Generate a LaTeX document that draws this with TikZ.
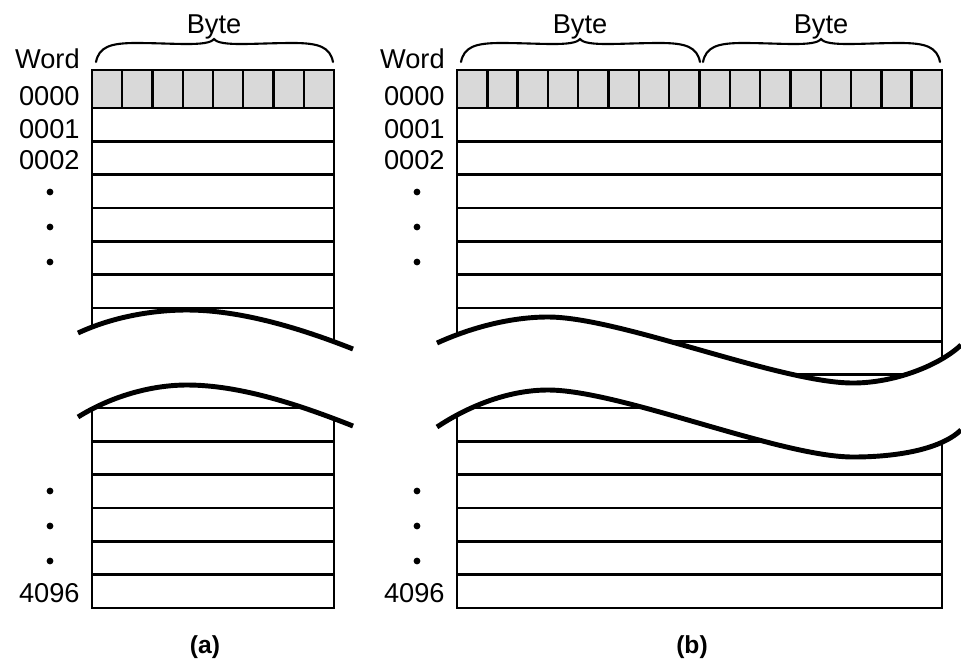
\documentclass[tikz,border=0pt]{standalone}
\usepackage{fontspec}
\setmainfont{Liberation Sans}
\usepackage{tikz}
\usetikzlibrary{positioning}
\definecolor{cellgray}{RGB}{217, 217, 217}
\tikzstyle{gridline} = [line width=1.4pt, black]
\tikzstyle{breakline} = [line width=2.8pt, black]
\tikzstyle{bracestyle} = [line width=1.2pt, line cap=round]
\tikzstyle{addrtext} = [font=\fontsize{15.5}{18}\selectfont, inner sep=0pt]
\tikzstyle{subcap} = [font=\fontsize{14}{17}\selectfont\bfseries, inner sep=0pt]
% brace over one byte: left end, tip, right end
\newcommand{\bytebrace}[3]{%
  \draw[bracestyle] (#1,62) .. controls (#1+3,47) and (#1+14,43) .. (#1+40,43)
    .. controls (#2-40,43) and (#2-6,47) .. (#2,39)
    .. controls (#2+6,47) and (#2+40,43) .. (#3-40,43)
    .. controls (#3-14,43) and (#3-3,47) .. (#3,62);}

\begin{document}
\begin{tikzpicture}[x=0.2mm, y=-0.2mm]
    \useasboundingbox (0,0) rectangle (961,660);

    % (a) memory of byte words
    \draw[gridline, fill=cellgray] (92,70) rectangle (334,108);
    \foreach \i in {1,...,7}
        \draw[gridline] (92+\i*30.25,70) -- (92+\i*30.25,108);
    \foreach \r in {1,...,14}
        \draw[gridline] (92,108+\r*33.333) -- (334,108+\r*33.333);
    \draw[gridline] (92,70) rectangle (334,608);

    \bytebrace{96}{214}{333}
    \node[addrtext, anchor=base] (byteA) at (214,33) {Byte};
    \node[addrtext, anchor=base east] (wordA) at (80,68) {Word};
    \node[addrtext, anchor=base east] (adrA0) at (80,105) {0000};
    \node[addrtext, anchor=base east] (adrA1) at (80,138) {0001};
    \node[addrtext, anchor=base east] (adrA2) at (80,169) {0002};
    \node[addrtext, anchor=base east] (adrAn) at (80,602) {4096};
    \foreach \y in {192,227,262,491,526,561}
        \fill (50,\y) circle (0.68mm);

    % break in (a)
    \fill[white] (78,333) .. controls (110,318) and (150,310) .. (187,310)
        .. controls (240,310) and (300,328) .. (353,349)
        -- (353,426) .. controls (300,405) and (240,385) .. (187,385)
        .. controls (150,385) and (110,397) .. (78,417) -- cycle;
    \draw[breakline] (78,333) .. controls (110,318) and (150,310) .. (187,310)
        .. controls (240,310) and (300,328) .. (353,349);
    \draw[breakline] (78,417) .. controls (110,397) and (150,385) .. (187,385)
        .. controls (240,385) and (300,405) .. (353,426);

    % (b) memory of two-byte words
    \draw[gridline, fill=cellgray] (457,70) rectangle (942,108);
    \foreach \i in {1,...,15}
        \draw[gridline] (457+\i*30.3125,70) -- (457+\i*30.3125,108);
    \foreach \r in {1,...,14}
        \draw[gridline] (457,108+\r*33.333) -- (942,108+\r*33.333);
    \draw[gridline] (457,70) rectangle (942,608);

    \bytebrace{461}{580}{700}
    \bytebrace{703}{821}{940}
    \node[addrtext, anchor=base] (byteB1) at (580,33) {Byte};
    \node[addrtext, anchor=base] (byteB2) at (821,33) {Byte};
    \node[addrtext, anchor=base east] (wordB) at (445,68) {Word};
    \node[addrtext, anchor=base east] (adrB0) at (445,105) {0000};
    \node[addrtext, anchor=base east] (adrB1) at (445,138) {0001};
    \node[addrtext, anchor=base east] (adrB2) at (445,169) {0002};
    \node[addrtext, anchor=base east] (adrBn) at (445,602) {4096};
    \foreach \y in {192,227,262,491,526,561}
        \fill (417,\y) circle (0.68mm);

    % break in (b)
    \fill[white] (437,343) .. controls (470,328) and (510,317) .. (548,317)
        .. controls (620,317) and (780,383) .. (853,383)
        .. controls (895,383) and (940,365) .. (961,345)
        -- (961,430) .. controls (940,450) and (895,457) .. (853,457)
        .. controls (780,457) and (620,390) .. (548,390)
        .. controls (510,390) and (470,405) .. (437,427) -- cycle;
    \draw[breakline] (437,343) .. controls (470,328) and (510,317) .. (548,317)
        .. controls (620,317) and (780,383) .. (853,383)
        .. controls (895,383) and (940,365) .. (961,345);
    \draw[breakline] (437,427) .. controls (470,405) and (510,390) .. (548,390)
        .. controls (620,390) and (780,457) .. (853,457)
        .. controls (895,457) and (940,450) .. (961,430);

    % Captions
    \node[subcap, anchor=base] (capA) at (205,653) {(a)};
    \node[subcap, anchor=base] (capB) at (692,653) {(b)};
\end{tikzpicture}
\end{document}
